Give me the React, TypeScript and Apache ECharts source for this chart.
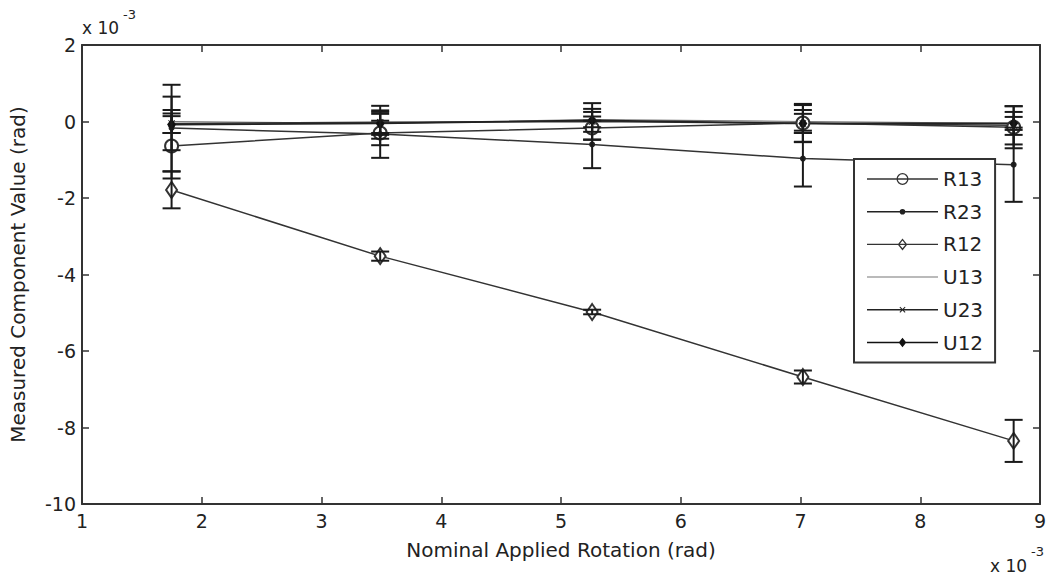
import React, { useEffect, useRef } from "react";
import * as echarts from "echarts";

// Nominal applied rotation (x 10^-3 rad)
const xValues = [1.748, 3.49, 5.26, 7.02, 8.78];

// Measured component values (x 10^-3 rad)
const r13 = [-0.64, -0.3, -0.17, -0.04, -0.15];
const r13Err = [0.85, 0.32, 0.3, 0.5, 0.55];
const r23 = [-0.17, -0.33, -0.6, -0.97, -1.13];
const r23Err = [1.13, 0.62, 0.62, 0.73, 0.97];
const r12 = [-1.79, -3.52, -4.98, -6.68, -8.35];
const r12Err = [0.48, 0.12, 0.06, 0.17, 0.55];
const u13 = [0.0, -0.05, 0.05, 0.0, -0.05];
const u13Err = [0.3, 0.25, 0.2, 0.3, 0.17];
const u23 = [-0.05, -0.02, 0.0, -0.05, -0.1];
const u23Err = [0.7, 0.43, 0.48, 0.48, 0.5];
const u12 = [-0.08, -0.05, 0.03, -0.05, -0.05];
const u12Err = [0.22, 0.3, 0.3, 0.25, 0.3];

const seriesNames = ["R13", "R23", "R12", "U13", "U23", "U12"];
const xTicks = { min: 1, max: 9, interval: 1 };
const yTicks = { min: -10, max: 2, interval: 2 };

const FONT = "DejaVu Sans";
const INK = "#222";

const crossPath =
  "path://M1 0L5 4L9 0L10 1L6 5L10 9L9 10L5 6L1 10L0 9L4 5L0 1Z";

// legend icons (71 x 12 box): sample line plus marker
const lineRect = "M0 5.3H71V6.7H0Z";
const legendIcons: Record<string, string> = {
  R13:
    "path://" + lineRect +
    "M29.5 6A6 6 0 1 1 41.5 6A6 6 0 1 1 29.5 6Z" +
    "M30.8 6A4.7 4.7 0 1 0 40.2 6A4.7 4.7 0 1 0 30.8 6Z",
  R23: "path://" + lineRect + "M32.7 6A2.8 2.8 0 1 1 38.3 6A2.8 2.8 0 1 1 32.7 6Z",
  R12:
    "path://" + lineRect +
    "M35.5 0L40.3 6L35.5 12L30.7 6Z" +
    "M35.5 2.2L32.4 6L35.5 9.8L38.6 6Z",
  U13: "path://M0 5.5H71V6.5H0Z",
  U23:
    "path://" + lineRect +
    "M32.5 3.7L33.2 3L35.5 5.3L37.8 3L38.5 3.7L36.2 6L38.5 8.3L37.8 9L35.5 6.7L33.2 9L32.5 8.3L34.8 6Z",
  U12: "path://" + lineRect + "M35.5 1.2L39.3 6L35.5 10.8L31.7 6Z",
};

export default function App() {
  const ref = useRef<HTMLDivElement>(null);

  useEffect(() => {
    document.body.style.margin = "0";
    if (!ref.current) return;
    const chart = echarts.init(ref.current, undefined, { renderer: "svg" });

    const pairs = (ys: number[]) => xValues.map((x, i) => [x, ys[i]]);
    const errData: number[][] = [];
    const allVals = [r13, r23, r12, u13, u23, u12];
    const allErr = [r13Err, r23Err, r12Err, u13Err, u23Err, u12Err];
    allVals.forEach((vals, s) => {
      vals.forEach((v, i) => {
        errData.push([xValues[i], v - allErr[s][i], v + allErr[s][i]]);
      });
    });

    const lineBase = {
      type: "line" as const,
      xAxisIndex: 0,
      yAxisIndex: 0,
      z: 3,
    };

    const axisLine = { onZero: false, lineStyle: { color: "#333", width: 2 } };
    const axisTick = { inside: true, length: 7, lineStyle: { color: "#333", width: 1.5 } };

    chart.setOption({
      animation: false,
      backgroundColor: "#ffffff",
      grid: { left: 81, right: 12, top: 45, bottom: 76 },
      xAxis: [
        {
          type: "value",
          ...xTicks,
          name: "Nominal Applied Rotation (rad)",
          nameLocation: "middle",
          nameGap: 36,
          nameTextStyle: { fontFamily: FONT, fontSize: 20, color: INK },
          axisLine,
          axisTick,
          axisLabel: { fontFamily: FONT, fontSize: 19, color: INK, margin: 7 },
          splitLine: { show: false },
        },
        {
          type: "value",
          ...xTicks,
          position: "top",
          axisLine,
          axisTick,
          axisLabel: { show: false },
          splitLine: { show: false },
        },
      ],
      yAxis: [
        {
          type: "value",
          ...yTicks,
          name: "Measured Component Value (rad)",
          nameLocation: "middle",
          nameGap: 54,
          nameTextStyle: { fontFamily: FONT, fontSize: 20, color: INK },
          axisLine,
          axisTick,
          axisLabel: { fontFamily: FONT, fontSize: 19, color: INK, margin: 6 },
          splitLine: { show: false },
        },
        {
          type: "value",
          ...yTicks,
          position: "right",
          axisLine,
          axisTick,
          axisLabel: { show: false },
          splitLine: { show: false },
        },
      ],
      legend: {
        data: seriesNames.map((n) => ({ name: n, icon: legendIcons[n] })),
        orient: "vertical",
        left: 854,
        top: 159,
        padding: [10, 12, 10, 13],
        itemGap: 12.7,
        itemWidth: 71,
        itemHeight: 12,
        symbolKeepAspect: true,
        itemStyle: { borderWidth: 0 },
        backgroundColor: "#ffffff",
        borderColor: "#333",
        borderWidth: 2,
        borderRadius: 0,
        textStyle: { fontFamily: FONT, fontSize: 20, color: INK, lineHeight: 20 },
      },
      graphic: [
        { type: "text", left: 82, top: 19, style: { text: "x 10", fontFamily: FONT, fontSize: 17, fill: INK } },
        { type: "text", left: 123, top: 8, style: { text: "-3", fontFamily: FONT, fontSize: 13, fill: INK } },
        { type: "text", left: 990, top: 557, style: { text: "x 10", fontFamily: FONT, fontSize: 17, fill: INK } },
        { type: "text", left: 1031, top: 545, style: { text: "-3", fontFamily: FONT, fontSize: 13, fill: INK } },
      ],
      series: [
        {
          ...lineBase,
          name: "R13",
          data: pairs(r13),
          symbol: "emptyCircle",
          symbolSize: 13,
          lineStyle: { color: "#333", width: 1.5 },
          itemStyle: { color: "#333", borderColor: "#333", borderWidth: 1.5 },
        },
        {
          ...lineBase,
          name: "R23",
          data: pairs(r23),
          symbol: "circle",
          symbolSize: 6,
          lineStyle: { color: "#333", width: 1.5 },
          itemStyle: { color: "#222" },
        },
        {
          ...lineBase,
          name: "R12",
          data: pairs(r12),
          symbol: "emptyDiamond",
          symbolSize: [11, 16],
          lineStyle: { color: "#333", width: 1.5 },
          itemStyle: { color: "#333", borderColor: "#333", borderWidth: 1.5 },
        },
        {
          ...lineBase,
          name: "U13",
          data: pairs(u13),
          symbol: "none",
          lineStyle: { color: "#777", width: 1.2 },
          itemStyle: { color: "#777" },
        },
        {
          ...lineBase,
          name: "U23",
          data: pairs(u23),
          symbol: crossPath,
          symbolSize: 7,
          lineStyle: { color: "#333", width: 1.5 },
          itemStyle: { color: "#222" },
        },
        {
          ...lineBase,
          name: "U12",
          data: pairs(u12),
          symbol: "diamond",
          symbolSize: [9, 12],
          lineStyle: { color: "#222", width: 1.8 },
          itemStyle: { color: "#111" },
        },
        {
          type: "custom",
          name: "errorbars",
          xAxisIndex: 0,
          yAxisIndex: 0,
          z: 4,
          data: errData,
          encode: { x: 0, y: [1, 2] },
          renderItem: (params: any, api: any) => {
            const x = api.value(0);
            const lo = api.coord([x, api.value(1)]);
            const hi = api.coord([x, api.value(2)]);
            const w = 9;
            const style = { stroke: "#1a1a1a", lineWidth: 2 };
            return {
              type: "group",
              children: [
                { type: "line", shape: { x1: lo[0], y1: lo[1], x2: hi[0], y2: hi[1] }, style },
                { type: "line", shape: { x1: lo[0] - w, y1: lo[1], x2: lo[0] + w, y2: lo[1] }, style },
                { type: "line", shape: { x1: hi[0] - w, y1: hi[1], x2: hi[0] + w, y2: hi[1] }, style },
              ],
            };
          },
        },
      ],
    });

    return () => chart.dispose();
  }, []);

  return <div ref={ref} style={{ width: 1052, height: 580 }} />;
}
